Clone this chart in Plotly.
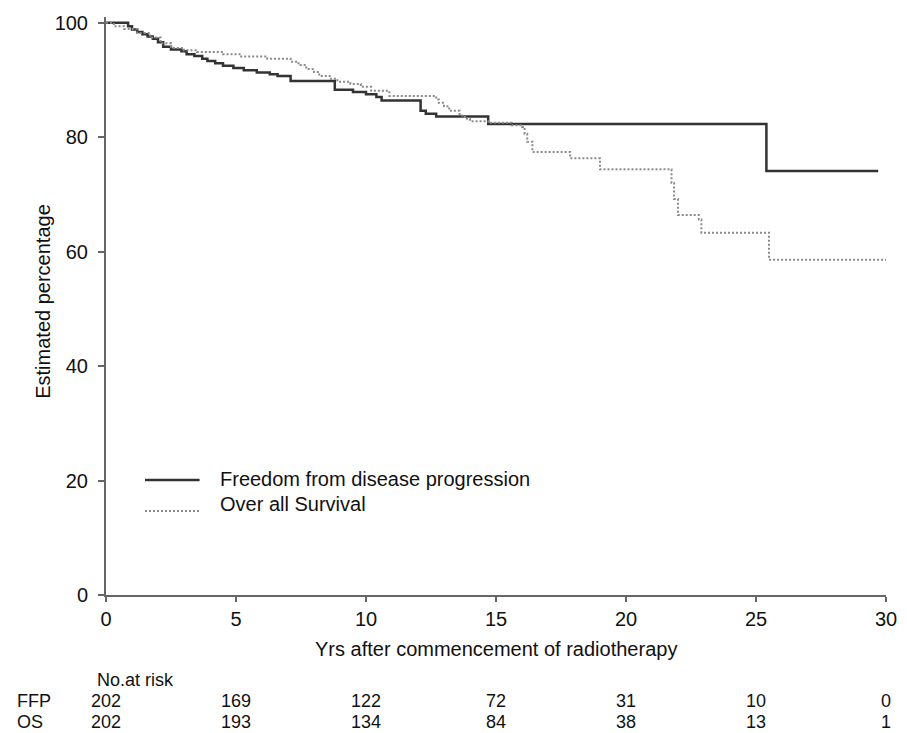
import plotly.graph_objects as go

# ---------------- data ----------------
ffp_times = [0, 0.85, 1.0, 1.2, 1.4, 1.6, 1.8, 2.0, 2.2, 2.5, 2.9, 3.1, 3.4, 3.7, 3.9,
             4.2, 4.5, 4.9, 5.3, 5.8, 6.3, 6.6, 7.1, 8.8, 9.5, 10.0, 10.4, 10.6, 12.1,
             12.3, 12.7, 14.7, 25.4, 29.7]
ffp_values = [100, 99.4, 98.8, 98.4, 98.0, 97.6, 97.2, 96.6, 95.8, 95.3, 95.0, 94.5,
              94.2, 93.7, 93.3, 92.9, 92.5, 92.1, 91.7, 91.3, 91.0, 90.7, 89.8, 88.3,
              87.9, 87.5, 87.0, 86.4, 84.6, 84.1, 83.6, 82.3, 74.1, 74.1]

os_times = [0, 0.3, 0.7, 1.2, 1.7, 2.1, 2.5, 3.0, 3.5, 4.5, 5.2, 6.2, 7.1, 7.4, 7.7,
            8.0, 8.2, 8.6, 8.9, 9.4, 9.8, 10.2, 10.9, 12.7, 12.8, 13.0, 13.2, 13.6,
            13.8, 14.0, 14.7, 15.6, 16.0, 16.1, 16.2, 16.4, 17.85, 19.0, 21.75, 21.85,
            22.0, 22.8, 22.9, 25.5, 30.0]
os_values = [100, 99.4, 98.9, 98.2, 97.4, 96.4, 95.6, 95.2, 94.9, 94.5, 94.1, 93.7,
             93.2, 92.6, 91.9, 91.4, 90.7, 90.2, 89.7, 89.3, 88.8, 88.1, 87.2, 86.6,
             86.0, 85.4, 84.6, 83.8, 83.2, 82.8, 82.5, 82.1, 81.8, 80.6, 79.2, 77.4,
             76.3, 74.4, 72.0, 69.2, 66.4, 65.6, 63.3, 58.6, 58.6]

series_names = ["Freedom from disease progression", "Over all Survival"]

risk_times = [0, 5, 10, 15, 20, 25, 30]
ffp_at_risk = [202, 169, 122, 72, 31, 10, 0]
os_at_risk = [202, 193, 134, 84, 38, 13, 1]
risk_row_labels = ["FFP", "OS"]
risk_title = "No.at risk"

x_ticks = [0, 5, 10, 15, 20, 25, 30]
y_ticks = [0, 20, 40, 60, 80, 100]
x_title = "Yrs after commencement of radiotherapy"
y_title = "Estimated percentage"

# ---------------- styles ----------------
FONT = "Liberation Sans, Arial, sans-serif"
FS = 20
FS_TABLE = 18
TXT = "#111111"
AX = "#666666"
SOLID = "#333333"
DOTTED = "#8a8a8a"

fig = go.Figure()
fig.add_trace(go.Scatter(x=ffp_times, y=ffp_values, mode="lines", line_shape="hv",
                         line=dict(color=SOLID, width=2.5), name=series_names[0],
                         showlegend=False))
fig.add_trace(go.Scatter(x=os_times, y=os_values, mode="lines", line_shape="hv",
                         line=dict(color=DOTTED, width=2, dash="2px,2px"),
                         name=series_names[1], showlegend=False))

# custom legend (inside plot area)
legend_rows = [(20.1, 20.3, SOLID, 2.5, "solid"), (14.7, 15.9, DOTTED, 2, "2px,2px")]
for name, (ly, ty, col, w, dash) in zip(series_names, legend_rows):
    fig.add_shape(type="line", xref="x", yref="y", x0=1.5, x1=3.6, y0=ly, y1=ly,
                  line=dict(color=col, width=w, dash=dash))
    fig.add_annotation(xref="x", yref="y", x=4.3, y=ty, text=name, showarrow=False,
                       xanchor="left", yanchor="middle",
                       font=dict(family=FONT, size=FS, color=TXT))

# axis titles
fig.add_annotation(xref="paper", yref="paper", x=-0.0808, y=0.509, text=y_title,
                   textangle=-90, showarrow=False, xanchor="center", yanchor="middle",
                   font=dict(family=FONT, size=FS, color=TXT))
fig.add_annotation(xref="paper", yref="paper", x=0.5, y=-0.0926, text=x_title,
                   showarrow=False, xanchor="center", yanchor="middle",
                   font=dict(family=FONT, size=FS, color=TXT))

# risk table
fig.add_annotation(xref="paper", yref="paper", x=-0.0141, y=-0.147, text=risk_title,
                   showarrow=False, xanchor="left", yanchor="middle",
                   font=dict(family=FONT, size=FS_TABLE, color=TXT))
row_y = [-0.1835, -0.2195]
for lab, ry, vals in zip(risk_row_labels, row_y, [ffp_at_risk, os_at_risk]):
    fig.add_annotation(xref="paper", yref="paper", x=-0.1167, y=ry, text=lab,
                       showarrow=False, xanchor="left", yanchor="middle",
                       font=dict(family=FONT, size=FS_TABLE, color=TXT))
    for t, v in zip(risk_times, vals):
        fig.add_annotation(xref="x", yref="paper", x=t, y=ry, text=str(v),
                           showarrow=False, xanchor="center", yanchor="middle",
                           font=dict(family=FONT, size=FS_TABLE, color=TXT))

fig.update_xaxes(range=[0, 30], tickvals=x_ticks, ticks="outside", ticklen=5,
                 tickwidth=2, tickcolor=AX, showline=True, linecolor=AX, linewidth=2,
                 showgrid=False, zeroline=False, ticklabeloverflow="allow",
                 tickfont=dict(family=FONT, size=FS, color=TXT))
fig.update_yaxes(range=[0, 101], tickvals=y_ticks, ticks="outside", ticklen=6,
                 tickwidth=2, tickcolor=AX, showline=True, linecolor=AX, linewidth=2,
                 showgrid=False, zeroline=False, ticklabelstandoff=6,
                 ticklabeloverflow="allow",
                 tickfont=dict(family=FONT, size=FS, color=TXT))

# page body has an 8px margin, so the figure is 8px smaller than the window
fig.update_layout(width=899, height=725, margin=dict(l=98, r=21, t=4, b=138),
                  plot_bgcolor="white", paper_bgcolor="white", showlegend=False)

fig.write_html("out.html")
